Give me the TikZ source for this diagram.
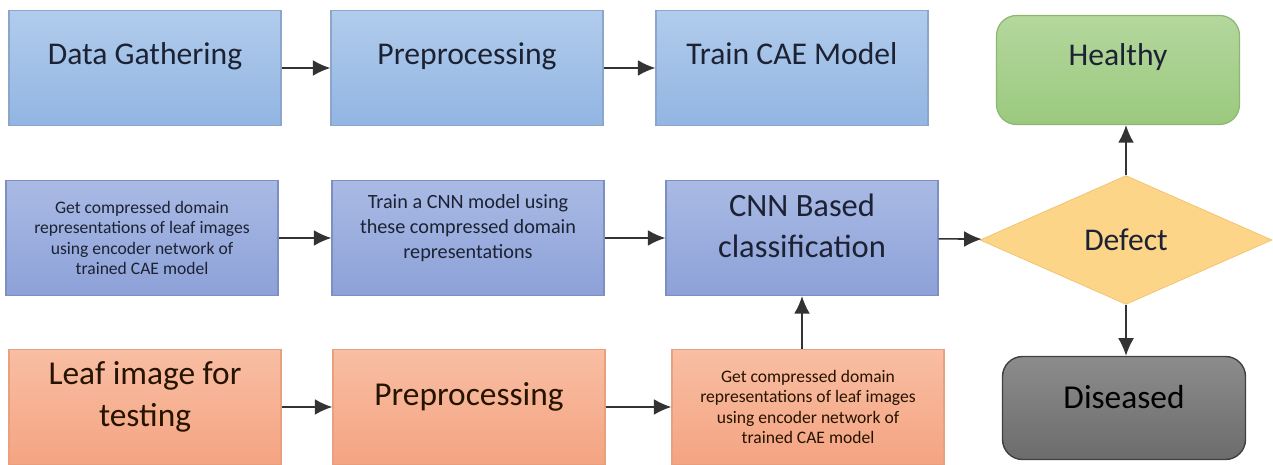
\documentclass[tikz,border=0pt]{standalone}
\usepackage{fontspec}
\setmainfont{Carlito}
\usetikzlibrary{arrows.meta,shapes.geometric}

\definecolor{bluetop}{HTML}{B1CCEC}
\definecolor{bluebot}{HTML}{92B5E2}
\definecolor{blueline}{HTML}{8CA6CB}
\definecolor{violettop}{HTML}{A9BAE4}
\definecolor{violetbot}{HTML}{8DA1D8}
\definecolor{violetline}{HTML}{7D8FC2}
\definecolor{orangetop}{HTML}{F9BEA3}
\definecolor{orangebot}{HTML}{F4A482}
\definecolor{orangeline}{HTML}{E8A07F}
\definecolor{greentop}{HTML}{B4D79D}
\definecolor{greenbot}{HTML}{9BC97E}
\definecolor{greenline}{HTML}{8EB673}
\definecolor{defectfill}{HTML}{FDD589}
\definecolor{defectline}{HTML}{F0C26C}
\definecolor{graytop}{HTML}{8C8C8C}
\definecolor{graybot}{HTML}{6C6C6C}
\definecolor{inkdark}{HTML}{1C2233}
\definecolor{arrowgray}{HTML}{333333}

\tikzset{
  stagebox/.style={rectangle,draw,line width=0.7pt,minimum width=5.44cm,minimum height=2.3cm,text=inkdark},
  bigtext/.style={font=\fontsize{18}{23}\selectfont},
  smalltext/.style={font=\fontsize{10}{11.6}\selectfont,align=center},
  lifted/.style={text depth=#1},
  flowarrow/.style={draw=arrowgray,line width=0.9pt,-{Latex[length=10pt,width=9pt]}}
}

\begin{document}
\begin{tikzpicture}[x=0.02cm,y=-0.02cm]
  \useasboundingbox (0,0) rectangle (1273,465);

  % training chain
  \begin{scope}[every node/.style={stagebox,bigtext,lifted=16pt,draw=blueline,top color=bluetop,bottom color=bluebot}]
    \node (gather)  at (145,68) {Data Gathering};
    \node (prep)    at (467,68) {Preprocessing};
    \node (traincae) at (792,68) {Train CAE Model};
  \end{scope}

  \begin{scope}[every node/.style={stagebox,draw=violetline,top color=violettop,bottom color=violetbot}]
    \node[smalltext] (encode) at (142,238)
      {Get compressed domain\\representations of leaf images\\using encoder network of\\trained CAE model};
    \node[font=\fontsize{11.5}{14}\selectfont,align=center,lifted=13pt] (traincnn) at (468,238)
      {Train a CNN model using\\these compressed domain\\representations};
    \node[font=\fontsize{18.5}{23}\selectfont,align=center,lifted=14pt] (classify) at (802,238)
      {CNN Based\\classification};
  \end{scope}

  % testing chain
  \begin{scope}[every node/.style={stagebox,draw=orangeline,top color=orangetop,bottom color=orangebot,text=black!85!orange}]
    \node[font=\fontsize{19}{24}\selectfont,align=center,lifted=15pt] (leaf) at (145,407)
      {Leaf image for\\testing};
    \node[font=\fontsize{19}{23}\selectfont,lifted=15pt] (testprep) at (469,407) {Preprocessing};
    \node[smalltext] (testencode) at (808,407)
      {Get compressed domain\\representations of leaf images\\using encoder network of\\trained CAE model};
  \end{scope}

  % decision and outcomes
  \node[diamond,draw=defectline,fill=defectfill,minimum width=5.84cm,minimum height=2.52cm,
        bigtext,text=inkdark] (defect) at (1126,240) {Defect};
  \node[rectangle,rounded corners=0.4cm,draw=greenline,line width=0.7pt,top color=greentop,
        bottom color=greenbot,minimum width=4.86cm,minimum height=2.18cm,bigtext,lifted=18pt,
        text=inkdark] (healthy) at (1118,70) {Healthy};
  \node[rectangle,rounded corners=0.4cm,draw=black!75,line width=0.8pt,top color=graytop,
        bottom color=graybot,minimum width=4.86cm,minimum height=2.06cm,lifted=13pt,
        font=\fontsize{19}{23}\selectfont,text=black] (diseased) at (1124,408) {Diseased};

  \begin{scope}[every edge/.style={flowarrow}]
    \path (gather)   edge (prep);
    \path (prep)     edge (traincae);
    \path (encode)   edge (traincnn);
    \path (traincnn) edge (classify);
    \path (classify) edge (defect);
    \path (leaf)     edge (testprep);
    \path (testprep) edge (testencode);
    \path (testencode.north -| classify.south) edge (classify.south);
    \path (defect.north) edge (defect.north |- healthy.south);
    \path (defect.south) edge (defect.south |- diseased.north);
  \end{scope}

\end{tikzpicture}
\end{document}
